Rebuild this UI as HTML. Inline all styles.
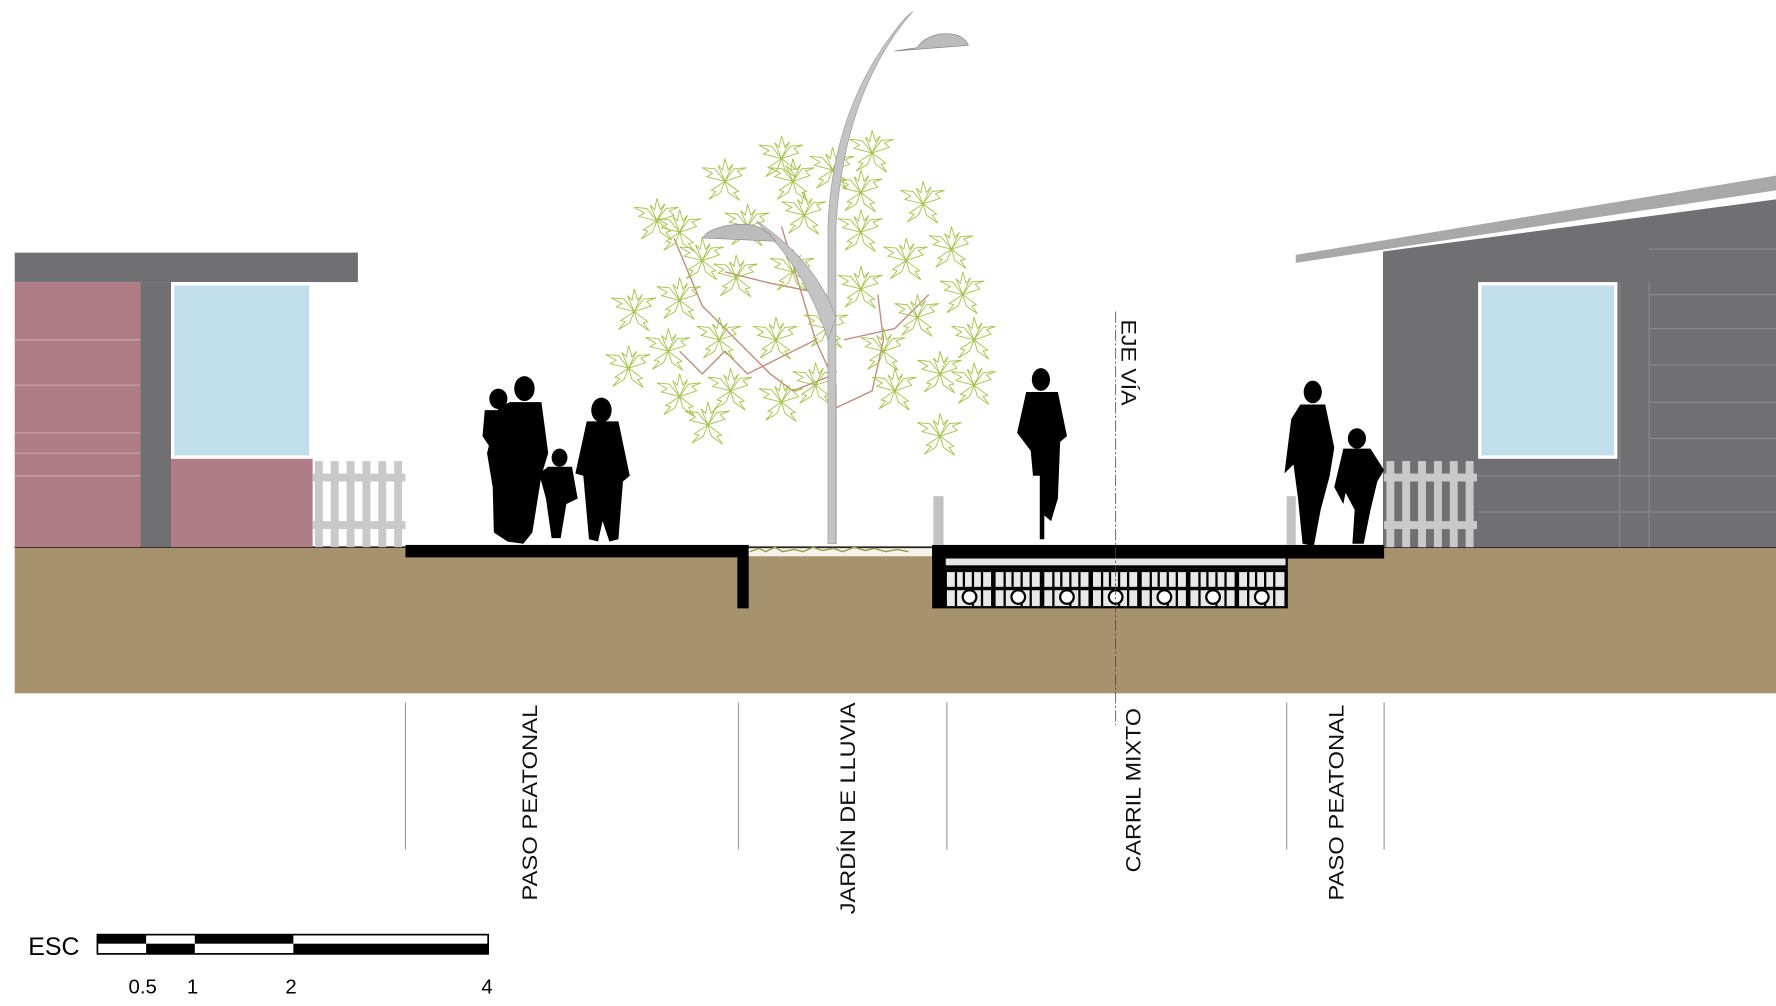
<!DOCTYPE html>
<html><head><meta charset="utf-8"><style>
html,body{margin:0;padding:0;background:#fff;}
svg{display:block;}
text{font-family:"Liberation Sans",sans-serif;}
</style></head><body>
<svg width="1776" height="1006" viewBox="0 0 1568 888" preserveAspectRatio="none" xmlns="http://www.w3.org/2000/svg">
<defs>
<g id="leaf" fill="none" stroke="#a3c24a" stroke-width="0.8">
<path d="M0,0 L-6,-14 L-2,-10 L0,-20 L3,-10 L7,-15 Z"/>
<path d="M0,0 L-16,-4 L-11,-7 L-20,-12 L-9,-11 Z"/>
<path d="M0,0 L15,-5 L11,-9 L19,-12 L8,-11 Z"/>
<path d="M0,0 L-12,8 L-8,9 L-14,16 L-4,10 Z"/>
<path d="M0,0 L12,9 L8,10 L13,17 L3,10 Z"/>
</g>
</defs>
<rect width="1568" height="888" fill="#fff"/>
<!-- ground -->
<rect x="13" y="483" width="1555" height="129" fill="#a6926c"/>
<line x1="13" y1="483" x2="1568" y2="483" stroke="#222" stroke-width="1.5"/>
<!-- left house -->
<rect x="13" y="223" width="303" height="26" fill="#707072"/>
<rect x="13" y="249" width="111" height="234" fill="#b07d86"/>
<g stroke="#c9a3a9" stroke-width="1"><line x1="13" y1="300" x2="124" y2="300"/><line x1="13" y1="340" x2="124" y2="340"/><line x1="13" y1="382" x2="124" y2="382"/><line x1="13" y1="400" x2="124" y2="400"/><line x1="13" y1="420" x2="124" y2="420"/><line x1="151" y1="430" x2="276" y2="430"/></g>
<rect x="124" y="249" width="27" height="234" fill="#707072"/>
<rect x="151" y="249" width="125" height="156" fill="#fff"/>
<rect x="154" y="252" width="119" height="150" fill="#c0dfeb"/>
<rect x="151" y="405" width="125" height="78" fill="#b07d86"/>
<!-- left fence -->
<g fill="#c9c9c9"><rect x="278" y="407" width="7" height="76"/><rect x="292" y="407" width="7" height="76"/><rect x="306" y="407" width="7" height="76"/><rect x="320" y="407" width="7" height="76"/><rect x="334" y="407" width="7" height="76"/><rect x="348" y="407" width="7" height="76"/><rect x="276" y="418" width="82" height="7"/><rect x="276" y="460" width="82" height="7"/></g>
<!-- right house -->
<polygon points="1221,222 1568,176 1568,483 1221,483" fill="#707072"/>
<polygon points="1144,225 1568,155 1568,168 1144,232" fill="#a8a8a8"/>
<g stroke="#8a8a8c" stroke-width="1"><line x1="1456" y1="260" x2="1568" y2="260"/><line x1="1456" y1="290" x2="1568" y2="290"/><line x1="1456" y1="322" x2="1568" y2="322"/><line x1="1456" y1="355" x2="1568" y2="355"/><line x1="1456" y1="387" x2="1568" y2="387"/><line x1="1305" y1="420" x2="1568" y2="420"/><line x1="1305" y1="452" x2="1568" y2="452"/><line x1="1430" y1="249" x2="1430" y2="483"/><line x1="1456" y1="249" x2="1456" y2="483"/><line x1="1456" y1="220" x2="1568" y2="220"/></g>
<rect x="1305" y="249" width="123" height="156" fill="#fff"/>
<rect x="1308" y="252" width="117" height="150" fill="#c0dfeb"/>
<g fill="#c9c9c9"><rect x="1224" y="407" width="7" height="76"/><rect x="1238" y="407" width="7" height="76"/><rect x="1252" y="407" width="7" height="76"/><rect x="1266" y="407" width="7" height="76"/><rect x="1280" y="407" width="7" height="76"/><rect x="1294" y="407" width="7" height="76"/><rect x="1222" y="418" width="82" height="7"/><rect x="1222" y="460" width="82" height="7"/></g>
<!-- slabs -->
<rect x="358" y="481" width="303" height="11" fill="#000"/>
<rect x="651" y="483" width="10" height="54" fill="#000"/>
<rect x="661" y="484" width="162" height="7" fill="#f3f3ea"/>
<path d="M662,487 l8,-3 l6,3 l8,-4 l7,4 l10,-2 l8,2 l9,-4 l8,3 l10,-2 l8,3 l10,-4 l10,3 l8,-2 l10,3 l10,-2 l10,2" fill="none" stroke="#8f9a4a" stroke-width="1.2"/>
<rect x="823" y="481" width="399" height="12" fill="#000"/>
<rect x="823" y="483" width="10" height="54" fill="#000"/>
<rect x="833" y="492" width="304" height="10" fill="#000"/>
<rect x="835" y="493" width="300" height="6" fill="#e6e6e6"/>
<rect x="833" y="502" width="304" height="35" fill="#000"/>
<g>
<g fill="#e8e8e8">
<rect x="836" y="505" width="39" height="30"/><rect x="879" y="505" width="39" height="30"/><rect x="922" y="505" width="39" height="30"/><rect x="965" y="505" width="39" height="30"/><rect x="1008" y="505" width="39" height="30"/><rect x="1051" y="505" width="39" height="30"/><rect x="1094" y="505" width="40" height="30"/>
</g>
<g fill="#000">
<rect x="833" y="518" width="304" height="3"/>
<rect x="843" y="505" width="2" height="30"/><rect x="850" y="505" width="2" height="13"/><rect x="858" y="505" width="2" height="30"/><rect x="866" y="505" width="2" height="30"/>
<rect x="886" y="505" width="2" height="30"/><rect x="893" y="505" width="2" height="13"/><rect x="901" y="505" width="2" height="30"/><rect x="909" y="505" width="2" height="30"/>
<rect x="929" y="505" width="2" height="30"/><rect x="936" y="505" width="2" height="13"/><rect x="944" y="505" width="2" height="30"/><rect x="952" y="505" width="2" height="30"/>
<rect x="972" y="505" width="2" height="30"/><rect x="979" y="505" width="2" height="13"/><rect x="987" y="505" width="2" height="30"/><rect x="995" y="505" width="2" height="30"/>
<rect x="1015" y="505" width="2" height="30"/><rect x="1022" y="505" width="2" height="13"/><rect x="1030" y="505" width="2" height="30"/><rect x="1038" y="505" width="2" height="30"/>
<rect x="1058" y="505" width="2" height="30"/><rect x="1065" y="505" width="2" height="13"/><rect x="1073" y="505" width="2" height="30"/><rect x="1081" y="505" width="2" height="30"/>
<rect x="1101" y="505" width="2" height="30"/><rect x="1108" y="505" width="2" height="13"/><rect x="1116" y="505" width="2" height="30"/><rect x="1124" y="505" width="2" height="30"/>
</g>
<g fill="#fff" stroke="#000" stroke-width="2">
<circle cx="856" cy="527" r="6"/><circle cx="899" cy="527" r="6"/><circle cx="942" cy="527" r="6"/><circle cx="985" cy="527" r="6"/><circle cx="1028" cy="527" r="6"/><circle cx="1071" cy="527" r="6"/><circle cx="1114" cy="527" r="6"/>
</g>
</g>
<!-- bollards -->
<rect x="824" y="438" width="9" height="43" fill="#c2c2c2"/>
<rect x="1136" y="438" width="8" height="43" fill="#c2c2c2"/>
<!-- eje -->
<line x1="985" y1="275" x2="985" y2="640" stroke="#444" stroke-width="0.7" stroke-dasharray="10,2,2,2"/>
<text transform="translate(990,282) rotate(90)" font-size="19" fill="#111" textLength="76" lengthAdjust="spacingAndGlyphs">EJE VÍA</text>
<!-- tree -->
<g stroke="#c08a7a" stroke-width="1.2" fill="none">
<path d="M738,480 L738,340 L720,300 L705,250 L690,200"/>
<path d="M738,360 L770,345 L780,300 L775,260"/>
<path d="M738,330 L700,345 L680,330 L660,310 L620,270 L595,210"/>
<path d="M720,300 L660,330 L640,310 L620,330 L600,310"/>
<path d="M745,300 L790,290 L820,260"/>
<path d="M730,260 L680,250 L640,240"/>
</g>
<g>
<use href="#leaf" x="600" y="205"/><use href="#leaf" x="640" y="160"/><use href="#leaf" x="690" y="140"/><use href="#leaf" x="735" y="150"/><use href="#leaf" x="770" y="135"/><use href="#leaf" x="815" y="180"/><use href="#leaf" x="840" y="220"/><use href="#leaf" x="580" y="195"/>
<use href="#leaf" x="660" y="200"/><use href="#leaf" x="710" y="190"/><use href="#leaf" x="760" y="205"/><use href="#leaf" x="800" y="230"/><use href="#leaf" x="850" y="260"/><use href="#leaf" x="560" y="275"/>
<use href="#leaf" x="600" y="265"/><use href="#leaf" x="650" y="245"/><use href="#leaf" x="700" y="240"/><use href="#leaf" x="760" y="255"/><use href="#leaf" x="810" y="280"/><use href="#leaf" x="860" y="300"/>
<use href="#leaf" x="555" y="325"/><use href="#leaf" x="590" y="310"/><use href="#leaf" x="635" y="300"/><use href="#leaf" x="685" y="300"/><use href="#leaf" x="730" y="290"/><use href="#leaf" x="780" y="310"/><use href="#leaf" x="830" y="330"/><use href="#leaf" x="860" y="340"/>
<use href="#leaf" x="600" y="350"/><use href="#leaf" x="645" y="345"/><use href="#leaf" x="690" y="355"/><use href="#leaf" x="790" y="345"/><use href="#leaf" x="830" y="385"/><use href="#leaf" x="625" y="375"/><use href="#leaf" x="720" y="340"/><use href="#leaf" x="760" y="170"/><use href="#leaf" x="700" y="160"/><use href="#leaf" x="620" y="230"/>
</g>
<!-- lamp -->
<path d="M738,480 L738,200 Q745,80 806,10 L800,15 Q735,90 731,200 L731,480 Z" fill="#c4c4c4" stroke="#999" stroke-width="0.6"/>
<path d="M738,280 Q720,230 668,195 L672,200 Q712,240 731,300 Z" fill="#c4c4c4" stroke="#999" stroke-width="0.6"/>
<path d="M790,45 L855,40 Q850,28 830,30 Q815,33 810,42 Z" fill="#bbb" stroke="#888" stroke-width="0.6"/>
<path d="M620,210 L685,213 Q676,200 660,198 Q640,197 625,205 Z" fill="#bbb" stroke="#888" stroke-width="0.6"/>
<!-- family -->
<g fill="#000">
<ellipse cx="463" cy="343" rx="9" ry="11"/>
<path d="M450,355 L478,355 L484,400 L478,420 L470,470 L462,480 L448,478 L436,470 L435,430 L430,400 L440,360 Z"/>
<ellipse cx="440" cy="352" rx="8" ry="9"/>
<path d="M428,362 L452,362 L450,395 L436,400 L426,385 Z"/>
<ellipse cx="494" cy="404" rx="7" ry="8"/>
<path d="M484,412 L505,412 L510,440 L500,445 L495,475 L487,475 L482,440 L476,418 Z"/>
<ellipse cx="531" cy="362" rx="9" ry="11"/>
<path d="M518,372 L546,372 L556,420 L550,425 L548,450 L546,476 L538,478 L532,460 L528,478 L520,476 L515,420 L508,418 Z"/>
<ellipse cx="919" cy="335" rx="8" ry="10"/>
<path d="M906,346 L934,346 L942,385 L936,390 L934,440 L928,460 L922,455 L920,420 L912,420 L910,398 L898,382 Z"/>
<rect x="918" y="410" width="4" height="66"/>
<ellipse cx="1159" cy="346" rx="8" ry="10"/>
<path d="M1148,357 L1170,357 L1178,395 L1174,420 L1166,450 L1160,482 L1150,480 L1146,440 L1142,410 L1134,418 L1140,370 Z"/>
<ellipse cx="1198" cy="387" rx="8" ry="9"/>
<path d="M1186,396 L1210,396 L1222,415 L1216,425 L1210,450 L1204,480 L1194,480 L1196,450 L1188,435 L1186,445 L1178,430 Z"/>
</g>
<!-- division lines -->
<g stroke="#999" stroke-width="1"><line x1="358" y1="620" x2="358" y2="750"/><line x1="652" y1="620" x2="652" y2="750"/><line x1="836" y1="620" x2="836" y2="750"/><line x1="1136" y1="620" x2="1136" y2="750"/><line x1="1222" y1="620" x2="1222" y2="750"/></g>
<g font-size="19" fill="#111">
<text transform="translate(474,795) rotate(-90)" textLength="173" lengthAdjust="spacingAndGlyphs">PASO PEATONAL</text>
<text transform="translate(755,807) rotate(-90)" textLength="187" lengthAdjust="spacingAndGlyphs">JARDÍN DE LLUVIA</text>
<text transform="translate(1007,770) rotate(-90)" textLength="145" lengthAdjust="spacingAndGlyphs">CARRIL MIXTO</text>
<text transform="translate(1186,795) rotate(-90)" textLength="173" lengthAdjust="spacingAndGlyphs">PASO PEATONAL</text>
</g>
<!-- scale -->
<text x="25" y="843" font-size="22" fill="#000">ESC</text>
<rect x="86" y="825" width="345" height="17" fill="#fff" stroke="#000" stroke-width="1.5"/>
<rect x="86" y="825" width="43" height="8" fill="#000"/>
<rect x="129" y="833" width="43" height="9" fill="#000"/>
<rect x="172" y="825" width="87" height="8" fill="#000"/>
<rect x="259" y="833" width="172" height="9" fill="#000"/>
<g font-size="18" fill="#000" text-anchor="middle"><text x="126" y="877">0.5</text><text x="170" y="877">1</text><text x="257" y="877">2</text><text x="430" y="877">4</text></g>
</svg>
</body></html>
